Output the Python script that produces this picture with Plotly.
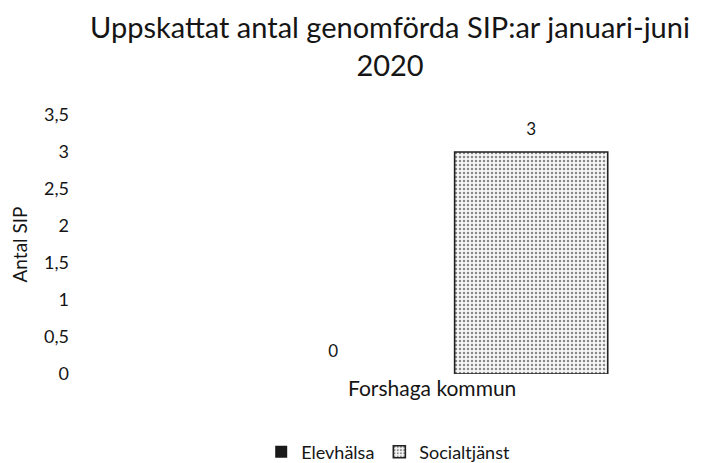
import plotly.graph_objects as go

categories = ["Forshaga kommun"]
series_names = ["Elevhälsa", "Socialtjänst"]
elevhalsa = [0]
socialtjanst = [3]
y_ticks = [0, 0.5, 1, 1.5, 2, 2.5, 3, 3.5]
y_title = "Antal SIP"

font_family = "Lato, 'Open Sans', sans-serif"
txt = "#151515"
label_tpl = "<span style='font-size:17px'>%{y}</span><br>\u00a0"

fig = go.Figure()
fig.add_trace(go.Bar(
    name=series_names[0], x=categories, y=elevhalsa,
    marker=dict(color="#1a1a1a", line=dict(width=0)),
    texttemplate=label_tpl, textposition="outside",
    textfont=dict(size=9, color=txt), cliponaxis=False,
))
fig.add_trace(go.Bar(
    name=series_names[1], x=categories, y=socialtjanst,
    marker=dict(color="#bdbdbd",
                line=dict(color="#222222", width=1.6),
                pattern=dict(shape=".", fgcolor="#1e1e1e", bgcolor="#f7f7f7",
                             size=4, solidity=0.3)),
    texttemplate=label_tpl, textposition="outside",
    textfont=dict(size=9, color=txt), cliponaxis=False,
))

fig.add_annotation(text=y_title, xref="paper", yref="paper",
                   x=-0.082, y=0.5, xanchor="center", yanchor="middle",
                   textangle=-90, showarrow=False,
                   font=dict(size=19, color=txt))

fig.update_layout(
    width=702, height=463,
    paper_bgcolor="white", plot_bgcolor="white",
    separators=", ",
    barmode="group", bargap=0.3, bargroupgap=0.227,
    font=dict(family=font_family, color=txt, size=17),
    title=dict(text="Uppskattat antal genomförda SIP:ar januari-juni<br>2020",
               x=0.5556, xanchor="center", y=0.918, yanchor="top",
               font=dict(size=29, color=txt)),
    margin=dict(l=70, r=22, t=115, b=89, autoexpand=False),
    showlegend=True,
    legend=dict(orientation="h", xref="container", yref="container",
                x=0.553, xanchor="center", y=(463 - 452) / 463, yanchor="middle",
                font=dict(size=18, color=txt), itemwidth=30),
    xaxis=dict(range=[-0.640, 0.438], showgrid=False, showline=False, zeroline=False,
               ticks="", automargin=False, tickfont=dict(size=21, color=txt)),
    yaxis=dict(range=[0, 3.5], tickvals=y_ticks, showgrid=False, showline=False,
               zeroline=False, ticks="", automargin=False,
               tickfont=dict(size=18, color=txt)),
)

fig.write_html("out.html", config={"displayModeBar": False},
               post_script="document.body.style.margin='0';")
